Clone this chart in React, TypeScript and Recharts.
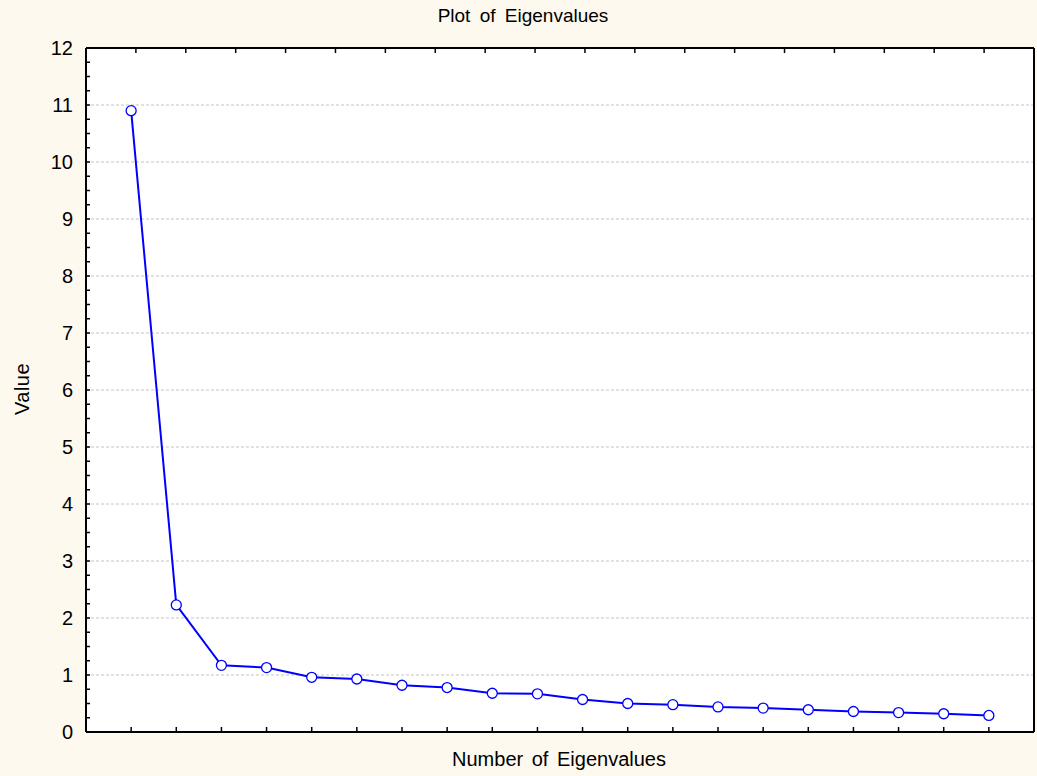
import React from 'react'
import { ComposedChart, Line, XAxis, YAxis, ReferenceLine, CartesianGrid } from 'recharts'

// eigenvalue number and its value
const eigenNumbers = [1, 2, 3, 4, 5, 6, 7, 8, 9, 10, 11, 12, 13, 14, 15, 16, 17, 18, 19, 20]
const eigenValues = [10.9, 2.23, 1.17, 1.13, 0.96, 0.93, 0.82, 0.78, 0.68, 0.67, 0.57, 0.5, 0.48, 0.44, 0.42, 0.39, 0.36, 0.34, 0.32, 0.29]

// axis ticks
const gridYValues = [1, 2, 3, 4, 5, 6, 7, 8, 9, 10, 11]
const minorYTicks = [
  0, 0.25, 0.5, 0.75, 1, 1.25, 1.5, 1.75, 2, 2.25, 2.5, 2.75, 3, 3.25, 3.5, 3.75,
  4, 4.25, 4.5, 4.75, 5, 5.25, 5.5, 5.75, 6, 6.25, 6.5, 6.75, 7, 7.25, 7.5, 7.75,
  8, 8.25, 8.5, 8.75, 9, 9.25, 9.5, 9.75, 10, 10.25, 10.5, 10.75, 11, 11.25, 11.5, 11.75, 12,
]
const xDomain = [0, 21]
const yDomain = [0, 12]

const title = 'Plot of Eigenvalues'
const xTitle = 'Number of Eigenvalues'
const yTitle = 'Value'

const data = eigenNumbers.map((n, i) => ({ n, value: eigenValues[i] }))

const FONT = "Arial, 'Liberation Sans', sans-serif"
const BG = '#fdf9ee'

// tick marks drawn inward from the frame; labels only on whole numbers
const LeftTick = (props: any) => {
  const { x, y, payload } = props
  const major = Number.isInteger(payload.value)
  return (
    <g>
      <line x1={x} y1={y} x2={x + 4} y2={y} stroke="#000" strokeWidth={1.5} />
      {major && (
        <text x={x - 13} y={y} dy={7} textAnchor="end" fontSize={20} fontFamily={FONT} fill="#000">
          {payload.value}
        </text>
      )}
    </g>
  )
}

const RightTick = (props: any) => {
  const { x, y } = props
  return <line x1={x} y1={y} x2={x - 4} y2={y} stroke="#000" strokeWidth={1.5} />
}

const BottomTick = (props: any) => {
  const { x, y } = props
  return <line x1={x} y1={y} x2={x} y2={y - 5} stroke="#000" strokeWidth={1.5} />
}

const TopTick = (props: any) => {
  const { x, y } = props
  return <line x1={x} y1={y} x2={x} y2={y + 5} stroke="#000" strokeWidth={1.5} />
}

export default function App() {
  return (
    <div style={{ position: 'absolute', left: 0, top: 0, width: 1037, height: 776, background: BG, fontFamily: FONT }}>
      <ComposedChart
        width={1037}
        height={776}
        data={data}
        margin={{ top: 47, right: 2, bottom: 0, left: 0 }}
      >
        <CartesianGrid xAxisId="b" yAxisId="l" horizontal={false} vertical={false} fill="#ffffff" fillOpacity={1} />
        <XAxis
          xAxisId="b"
          dataKey="n"
          type="number"
          orientation="bottom"
          domain={xDomain}
          ticks={eigenNumbers}
          interval={0}
          height={44}
          tickSize={0}
          tickMargin={0}
          tickLine={false}
          tick={<BottomTick />}
          axisLine={{ stroke: '#000', strokeWidth: 2 }}
        />
        <XAxis
          xAxisId="t"
          type="number"
          orientation="top"
          domain={xDomain}
          ticks={eigenNumbers}
          interval={0}
          height={1}
          tickSize={0}
          tickMargin={0}
          tickLine={false}
          tick={<TopTick />}
          axisLine={{ stroke: '#000', strokeWidth: 2 }}
        />
        <YAxis
          yAxisId="l"
          type="number"
          orientation="left"
          domain={yDomain}
          ticks={minorYTicks}
          interval={0}
          width={86}
          tickSize={0}
          tickMargin={0}
          tickLine={false}
          tick={<LeftTick />}
          axisLine={{ stroke: '#000', strokeWidth: 2 }}
        />
        <YAxis
          yAxisId="r"
          type="number"
          orientation="right"
          domain={yDomain}
          ticks={minorYTicks}
          interval={0}
          width={1}
          tickSize={0}
          tickMargin={0}
          tickLine={false}
          tick={<RightTick />}
          axisLine={{ stroke: '#000', strokeWidth: 2 }}
        />
        {gridYValues.map(v => (
          <ReferenceLine
            key={v}
            xAxisId="b"
            yAxisId="l"
            y={v}
            stroke="#c4c4c4"
            strokeDasharray="3 2"
            strokeWidth={1}
          />
        ))}
        <Line
          xAxisId="b"
          yAxisId="l"
          dataKey="value"
          type="linear"
          stroke="#0000ff"
          strokeWidth={2}
          dot={{ r: 5, fill: '#fff', stroke: '#0000ff', strokeWidth: 1.3 }}
          activeDot={false}
          isAnimationActive={false}
        />
      </ComposedChart>
      <div style={{ position: 'absolute', left: 0, width: 1046, top: 5, textAlign: 'center', fontSize: 19, wordSpacing: 4, color: '#000' }}>
        {title}
      </div>
      <div style={{ position: 'absolute', left: 0, width: 1118, top: 748, textAlign: 'center', fontSize: 20, wordSpacing: 3, color: '#000' }}>
        {xTitle}
      </div>
      <div
        style={{
          position: 'absolute',
          left: 22,
          top: 389,
          transform: 'translate(-50%, -50%) rotate(-90deg)',
          fontSize: 20,
          letterSpacing: 0.5,
          color: '#000',
          whiteSpace: 'nowrap',
        }}
      >
        {yTitle}
      </div>
    </div>
  )
}
